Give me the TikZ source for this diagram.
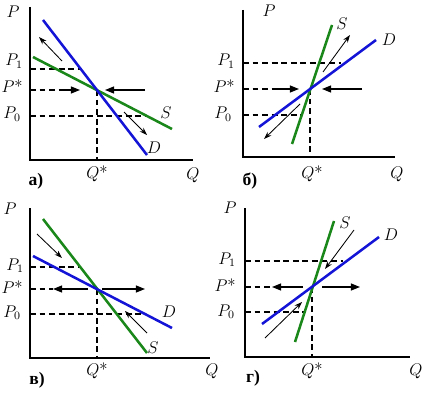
\documentclass[tikz,border=0pt]{standalone}
\usepackage{fontspec}
\newfontfamily\cyrfont{Liberation Serif}
\usepackage{tikz}
\usetikzlibrary{arrows.meta}
\definecolor{demandblue}{RGB}{20,20,215}
\definecolor{supplygreen}{RGB}{25,135,25}

\begin{document}
\begin{tikzpicture}[x=0.025cm, y=-0.025cm,
    axis/.style={line width=1pt},
    demand/.style={demandblue, line width=1.8pt},
    supply/.style={supplygreen, line width=1.8pt},
    guide/.style={dash pattern=on 4.2pt off 2.6pt, line width=0.9pt},
    push/.style={line width=0.9pt, -{Triangle[length=6.5pt,width=5pt]}},
    drift/.style={line width=0.6pt, -{Stealth[length=5.5pt,width=3.8pt]}},
    lbl/.style={inner sep=0pt, font=\fontsize{12}{14}\selectfont},
    tag/.style={inner sep=0pt, font=\cyrfont\bfseries\fontsize{12.5}{14}\selectfont}]
    \useasboundingbox (0,0) rectangle (425,393);

    % Panel a: steep demand, flat supply
    \coordinate (aO) at (30,160);
    \coordinate (aE) at (97,90);
    \draw[axis] (30,7) -- (aO) -- (193,160);
    \draw[guide] (30,69) -- (81,69);
    \draw[guide] (30,116) -- (147,116);
    \draw[guide] (30,90) -- (60,90);
    \draw[guide] (aE) -- (aE |- aO);
    \draw[supply] (33,57) -- (172,129);
    \draw[demand] (43,20) -- (147,155);
    \draw[push] (60,90) -- (80,90);
    \draw[push] (145,90) -- (105,90);
    \draw[drift] (62,61) -- (39,37);
    \draw[drift] (124,112) -- (147,135);
    \node[lbl] (aP) at (13,12) {$P$};
    \node[lbl, anchor=base east] (aP1) at (23,66) {$P_1$};
    \node[lbl, anchor=base east] (aPs) at (23,93) {$P$*};
    \node[lbl, anchor=base east] (aP0) at (21,119) {$P_0$};
    \node[lbl] (aS) at (166,113) {$S$};
    \node[lbl] (aD) at (154,148) {$D$};
    \node[lbl] (aQs) at (97,174) {$Q$*};
    \node[lbl] (aQ) at (193,175) {$Q$};
    \node[tag] (aTag) at (36,181) {а)};

    % Panel b: rising demand, steep supply
    \coordinate (bO) at (243,157);
    \coordinate (bE) at (310,89);
    \draw[axis] (243,10) -- (bO) -- (395,157);
    \draw[guide] (243,63) -- (341,63);
    \draw[guide] (243,115) -- (302,115);
    \draw[guide] (243,89) -- (277,89);
    \draw[guide] (bE) -- (bE |- bO);
    \draw[supply] (292,144) -- (332,25);
    \draw[demand] (259,127) -- (376,40);
    \draw[push] (277,89) -- (299,89);
    \draw[push] (362,89) -- (322,89);
    \draw[drift] (323,72) -- (350,35);
    \draw[drift] (300,104) -- (264,139);
    \node[lbl] (bP) at (269,11) {$P$};
    \node[lbl, anchor=base east] (bP1) at (235,66) {$P_1$};
    \node[lbl, anchor=base east] (bPs) at (235,93) {$P$*};
    \node[lbl, anchor=base east] (bP0) at (232,119) {$P_0$};
    \node[lbl] (bS) at (342,24) {$S$};
    \node[lbl] (bD) at (389,40) {$D$};
    \node[lbl] (bQs) at (312,174) {$Q$*};
    \node[lbl] (bQ) at (397,174) {$Q$};
    \node[tag] (bTag) at (250,181) {б)};

    % Panel c: flat demand, steep falling supply
    \coordinate (cO) at (30,358);
    \coordinate (cE) at (97,289);
    \draw[axis] (30,208) -- (cO) -- (210,358);
    \draw[guide] (30,267) -- (81,267);
    \draw[guide] (30,314) -- (146,314);
    \draw[guide] (30,289) -- (53,289);
    \draw[guide] (cE) -- (cE |- cO);
    \draw[supply] (43,219) -- (147,353);
    \draw[demand] (33,256) -- (172,328);
    \draw[push] (88,289) -- (53,289);
    \draw[push] (102,289) -- (145,289);
    \draw[drift] (37,234) -- (62,258);
    \draw[drift] (147,333) -- (125,311);
    \node[lbl] (cP) at (10,209) {$P$};
    \node[lbl, anchor=base east] (cP1) at (24,270) {$P_1$};
    \node[lbl, anchor=base east] (cPs) at (23,293) {$P$*};
    \node[lbl, anchor=base east] (cP0) at (21,317) {$P_0$};
    \node[lbl] (cD) at (169,312) {$D$};
    \node[lbl] (cS) at (153,348) {$S$};
    \node[lbl] (cQs) at (97,371) {$Q$*};
    \node[lbl] (cQ) at (212,371) {$Q$};
    \node[tag] (cTag) at (37,380) {в)};

    % Panel d: rising demand, steep supply, reversed drift
    \coordinate (dO) at (245,357);
    \coordinate (dE) at (312,287);
    \draw[axis] (245,208) -- (dO) -- (410,357);
    \draw[guide] (245,261) -- (343,261);
    \draw[guide] (245,312) -- (304,312);
    \draw[guide] (245,287) -- (272,287);
    \draw[guide] (dE) -- (dE |- dO);
    \draw[supply] (295,342) -- (334,221);
    \draw[demand] (262,324) -- (379,237);
    \draw[push] (303,287) -- (272,287);
    \draw[push] (322,287) -- (360,287);
    \draw[drift] (354,230) -- (325,269);
    \draw[drift] (265,338) -- (302,302);
    \node[lbl] (dP) at (230,208) {$P$};
    \node[lbl, anchor=base east] (dP1) at (236,264) {$P_1$};
    \node[lbl, anchor=base east] (dPs) at (236,291) {$P$*};
    \node[lbl, anchor=base east] (dP0) at (235,316) {$P_0$};
    \node[lbl] (dS) at (345,223) {$S$};
    \node[lbl] (dD) at (391,235) {$D$};
    \node[lbl] (dQs) at (312,371) {$Q$*};
    \node[lbl] (dQ) at (416,371) {$Q$};
    \node[tag] (dTag) at (253,378) {г)};
\end{tikzpicture}
\end{document}
